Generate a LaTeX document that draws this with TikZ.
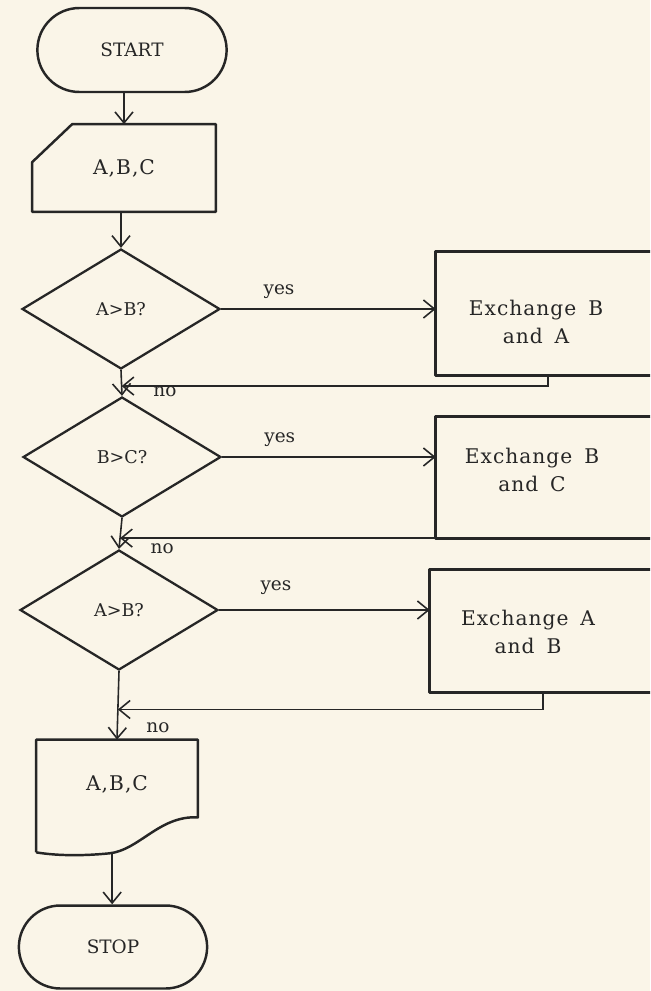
\documentclass[tikz,border=0pt]{standalone}
\usepackage{fontspec}
\usepackage{tikz}
\usetikzlibrary{arrows.meta,positioning,shapes.geometric,shapes.misc,calc}
\setmainfont{DejaVu Serif}
\newfontfamily\spacedfam{DejaVu Serif}[LetterSpace=5,WordSpace=1.6]
\definecolor{ink}{HTML}{262626}
\definecolor{paper}{HTML}{FAF5E8}
\tikzset{
  terminal/.style={rounded rectangle, draw=ink, line width=1.4pt, text=ink, minimum width=4.02cm, minimum height=1.68cm, font=\fontsize{10.5}{13}\selectfont},
  decision/.style={diamond, draw=ink, line width=1.3pt, text=ink, aspect=1.65, inner sep=0pt, minimum width=3.96cm, minimum height=2.4cm, font=\fontsize{10}{13}\selectfont},
  card/.style={rectangle, text=ink, minimum width=3.66cm, minimum height=1.74cm, font=\spacedfam\fontsize{11.5}{15}\selectfont},
  swapbox/.style={rectangle, text=ink, align=center, font=\spacedfam\fontsize{11.5}{15.5}\selectfont},
  outline/.style={draw=ink, line width=1.4pt, line join=round},
  flow/.style={draw=ink, line width=0.9pt, -{Straight Barb[length=2.2mm,width=3.6mm]}},
  tag/.style={text=ink, font=\fontsize{10.5}{13}\selectfont}
}
\begin{document}
\begin{tikzpicture}[x=0.02cm, y=-0.02cm]
  \fill[paper] (0,0) rectangle (650,991);
  \useasboundingbox (0,0) rectangle (650,991);
  \clip (0,0) rectangle (650,991);
  % main column
  \node[terminal] (start) at (132,50) {START};
  \node[card] (read) at (124,168) {A,B,C};
  \node[decision] (cmpab) at (121,309) {A>B?};
  \node[decision] (cmpbc) at (122,457) {B>C?};
  \node[decision] (cmpabb) at (119,610) {A>B?};
  \node[card, minimum width=3.22cm, minimum height=1.76cm] (print) at (117,784) {A,B,C};
  \node[terminal, minimum width=4.0cm, minimum height=1.66cm] (stop) at (113,947) {STOP};
  % exchange boxes (cut off at the right edge)
  \node[swapbox, minimum width=4.0cm, minimum height=2.12cm] (swapba) at (536,322) {Exchange B\\and A};
  \node[swapbox, minimum width=3.84cm, minimum height=2.72cm] (swapbc) at (532,470) {Exchange B\\and C};
  \node[swapbox, minimum width=3.92cm, minimum height=2.4cm] (swapab) at (528,632) {Exchange A\\and B};
  % outlines
  \draw[outline] ($(read.north west)+(40,0)$) -- (read.north east) -- (read.south east)
    -- (read.south west) -- ($(read.north west)+(0,38)$) -- cycle;
  \draw[outline] ($(print.south west)+(0,24)$) -- (print.north west) -- (print.north east)
    -- ($(print.south east)+(0,-11)$)
    .. controls ($(print.south west)+(123,-13)$) and ($(print.south west)+(103,22)$) .. ($(print.south west)+(73,25)$)
    .. controls ($(print.south west)+(43,28)$) and ($(print.south west)+(18,27)$) .. ($(print.south west)+(0,24)$);
  \foreach \swap/\off in {swapba/-17,swapbc/15,swapab/-2}
    \draw[outline] ($(\swap.north east)+(40,\off)$) -- ($(\swap.north west)+(0,\off)$)
      -- (\swap.south west) -- ($(\swap.south east)+(40,0)$);
  % junctions
  \coordinate (join1) at ($(cmpab.south)!0.62!(cmpbc.north)$);
  \coordinate (join2) at ($(cmpbc.south)!0.65!(cmpabb.north)$);
  \coordinate (join3) at ($(cmpabb.south)!0.56!(print.north)$);
  \coordinate (printout) at ($(print.south west)+(76,25)$);
  % connectors
  \draw[flow] (start.south -| read.north) -- (read.north);
  \draw[flow] (read.south -| cmpab.north) -- (cmpab.north);
  \draw[flow] (cmpab.east) -- node[tag, above=2pt, pos=0.27] {yes} (cmpab.east -| swapba.west);
  \draw[flow] (cmpbc.east) -- node[tag, above=2pt, pos=0.27] {yes} (cmpbc.east -| swapbc.west);
  \draw[flow] (cmpabb.east) -- node[tag, above=5pt, pos=0.27] {yes} (cmpabb.east -| swapab.west);
  \draw[flow] (cmpab.south) -- node[tag, right=0.5cm, pos=0.85] {no} (cmpbc.north);
  \draw[flow] (cmpbc.south) -- node[tag, right=0.5cm, pos=1] {no} (cmpabb.north);
  \draw[flow] (cmpabb.south) -- node[tag, right=0.45cm, pos=0.83] {no} (print.north);
  \draw[flow] ($(swapba.south)+(12,0)$) |- (join1);
  \draw[flow] ($(swapbc.south)+(15,0)$) |- (join2);
  \draw[flow] ($(swapab.south)+(15,0)$) |- (join3);
  \draw[flow] (printout) -- (printout |- stop.north);
\end{tikzpicture}
\end{document}
